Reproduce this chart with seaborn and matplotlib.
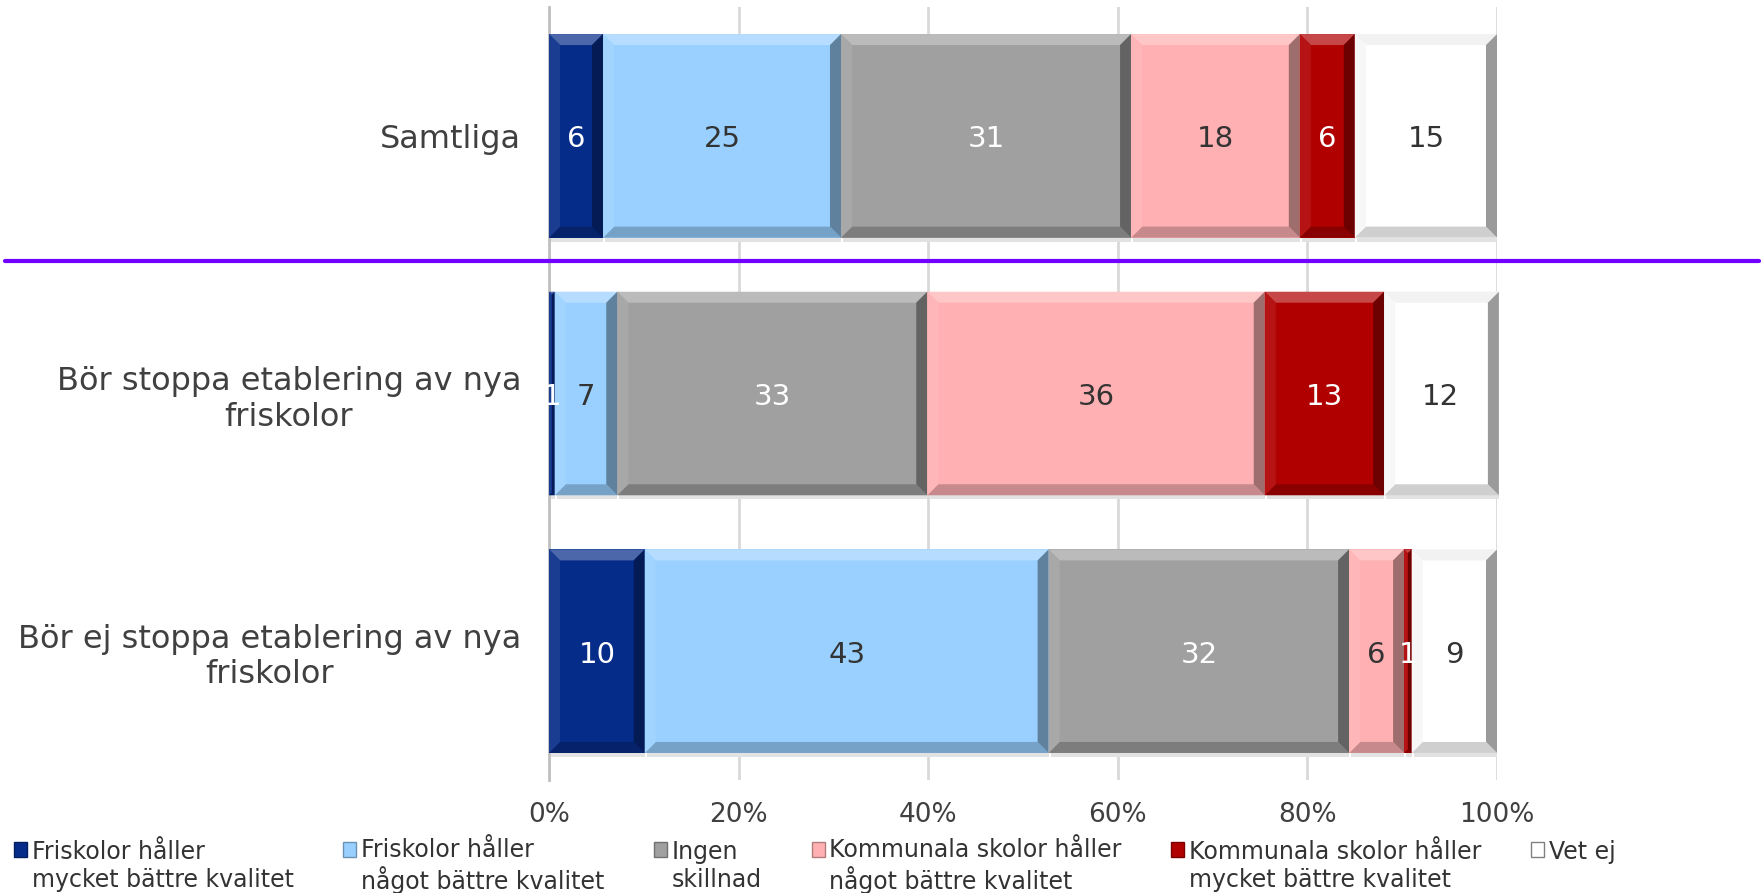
import numpy as np
import pandas as pd
import matplotlib
matplotlib.use("Agg")
import matplotlib.pyplot as plt
import seaborn as sns
from matplotlib.patches import Polygon, Patch, Rectangle
from matplotlib.lines import Line2D
from matplotlib.transforms import IdentityTransform
from matplotlib.colors import to_rgb
from matplotlib.legend_handler import HandlerPatch

categories = ["Samtliga",
              "Bör stoppa etablering av nya\nfriskolor",
              "Bör ej stoppa etablering av nya\nfriskolor"]
series_names = ["Friskolor håller\nmycket bättre kvalitet",
                "Friskolor håller\nnågot bättre kvalitet",
                "Ingen\nskillnad",
                "Kommunala skolor håller\nnågot bättre kvalitet",
                "Kommunala skolor håller\nmycket bättre kvalitet",
                "Vet ej"]
s1 = [5.7, 0.6, 10.1]
s2 = [25.1, 6.6, 42.6]
s3 = [30.6, 32.7, 31.7]
s4 = [17.8, 35.6, 5.8]
s5 = [5.8, 12.6, 0.8]
s6 = [15.0, 12.1, 9.0]
series = [s1, s2, s3, s4, s5, s6]
colors = ["#062C89", "#99D0FF", "#A0A0A0", "#FFB0B2", "#B00000", "#FFFFFF"]
label_colors = ["white", "#333333", "white", "#333333", "white", "#333333"]
xticks = [0, 20, 40, 60, 80, 100]
xticklabels = ["0%", "20%", "40%", "60%", "80%", "100%"]

W, H, DPI = 1763, 893, 100
sns.set_theme(style="white")
plt.rcParams["font.family"] = ["DejaVu Sans"]

fig = plt.figure(figsize=(W / DPI, H / DPI), dpi=DPI)
ax = fig.add_axes([549 / W, 1 - 780 / H, (1497 - 549) / W, (780 - 7) / H])

lefts = np.zeros(len(categories))
all_patches = []
for i, vals in enumerate(series):
    df = pd.DataFrame({"cat": categories, "val": vals})
    n_before = len(ax.patches)
    sns.barplot(data=df, x="val", y="cat", orient="h", color=colors[i],
                width=0.79, saturation=1, ax=ax, zorder=3)
    new = ax.patches[n_before:]
    for p, l in zip(new, lefts):
        p.set_x(l)
        p.set_edgecolor("none")
        p.set_linewidth(0)
    cont = ax.containers[-1]
    labs = ax.bar_label(cont, labels=[f"{v:.0f}" for v in vals], label_type="center",
                        color=label_colors[i], fontsize=21)
    for t in labs:
        t.set_zorder(8)
        t.set_va("center")
        t.xyann = (0, -2.5)
    all_patches.append((list(new), colors[i]))
    lefts = lefts + np.array(vals)

ax.set_xlim(0, 100)
ax.set_ylim(2.5, -0.5)
ax.set_xticks(xticks)
ax.set_xticklabels(xticklabels, fontsize=19, color="#404040")
ax.tick_params(axis="x", length=0, pad=16)
ax.tick_params(axis="y", length=0, pad=20, labelsize=23, labelcolor="#404040")
for t in ax.get_yticklabels():
    t.set_multialignment("center")
ax.set_xlabel("")
ax.set_ylabel("")
ax.grid(axis="x", color="#D9D9D9", linewidth=2, zorder=0)
ax.grid(axis="y", visible=False)
for s in ["top", "right", "bottom"]:
    ax.spines[s].set_visible(False)
ax.spines["left"].set_color("#C0C0C0")
ax.spines["left"].set_linewidth(2)
ax.spines["left"].set_zorder(2)


def mix(c, other, t):
    c = np.array(to_rgb(c)); o = np.array(to_rgb(other))
    return tuple(c * (1 - t) + o * t)


# bevel effect, derived from bar geometry
fig.canvas.draw()
for patches, col in all_patches:
    for p in patches:
        bb = p.get_window_extent()
        x0, y0, x1, y1 = bb.x0, bb.y0, bb.x1, bb.y1
        if x1 - x0 < 0.5:
            continue
        b = min(11, (x1 - x0) / 2, (y1 - y0) / 2)
        top = [(x0, y1), (x1, y1), (x1 - b, y1 - b), (x0 + b, y1 - b)]
        bot = [(x0, y0), (x1, y0), (x1 - b, y0 + b), (x0 + b, y0 + b)]
        lft = [(x0, y0), (x0, y1), (x0 + b, y1 - b), (x0 + b, y0 + b)]
        rgt = [(x1, y0), (x1, y1), (x1 - b, y1 - b), (x1 - b, y0 + b)]
        if col.upper() == "#FFFFFF":
            ct, cb, cl, cr = "#F2F2F2", "#CFCFCF", "#F7F7F7", "#9A9A9A"
        else:
            ct = mix(col, "white", 0.28)
            cb = mix(col, "black", 0.22)
            cl = mix(col, "white", 0.08)
            cr = mix(col, "black", 0.38)
        for poly, c in [(top, ct), (bot, cb), (lft, cl), (rgt, cr)]:
            ax.add_artist(Polygon(poly, closed=True, facecolor=c, edgecolor="none",
                                  transform=IdentityTransform(), zorder=4, clip_on=False))
        ax.add_artist(Polygon([(x0 + 2, y0), (x1, y0), (x1, y0 - 4), (x0 + 2, y0 - 4)],
                              closed=True, facecolor="#E2E2E2", edgecolor="none",
                              transform=IdentityTransform(), zorder=1, clip_on=False))

# purple separator line between first and second group
ysep = ax.transData.transform((0, 0.5))[1] + 4
fig.add_artist(Line2D([5 / W, 1759 / W], [ysep / H, ysep / H], color="#7000FF",
                      linewidth=3, transform=fig.transFigure, zorder=5))


def top_square(legend, orig_handle, xdescent, ydescent, width, height, fontsize):
    return Rectangle(xy=(-xdescent, -ydescent + 0.72 * fontsize), width=width, height=height)


# single-line legend entries are top-aligned like the others
legend_labels = [n if "\n" in n else n + "\n " for n in series_names]

handles = [Patch(facecolor=c, edgecolor="#808080" if c == "#FFFFFF" else mix(c, "black", 0.3),
                 linewidth=1) for c in colors]
leg = fig.legend(handles, legend_labels, loc="lower left", bbox_to_anchor=(0.0, -0.017),
                 ncol=6, frameon=False, fontsize=17, handlelength=0.55, handleheight=0.6,
                 handletextpad=0.2, columnspacing=2.1, borderaxespad=0.2,
                 labelcolor="#333333",
                 handler_map={Patch: HandlerPatch(patch_func=top_square)})
for t in leg.get_texts():
    t.set_linespacing(1.2)

fig.savefig("out.png", dpi=DPI)
